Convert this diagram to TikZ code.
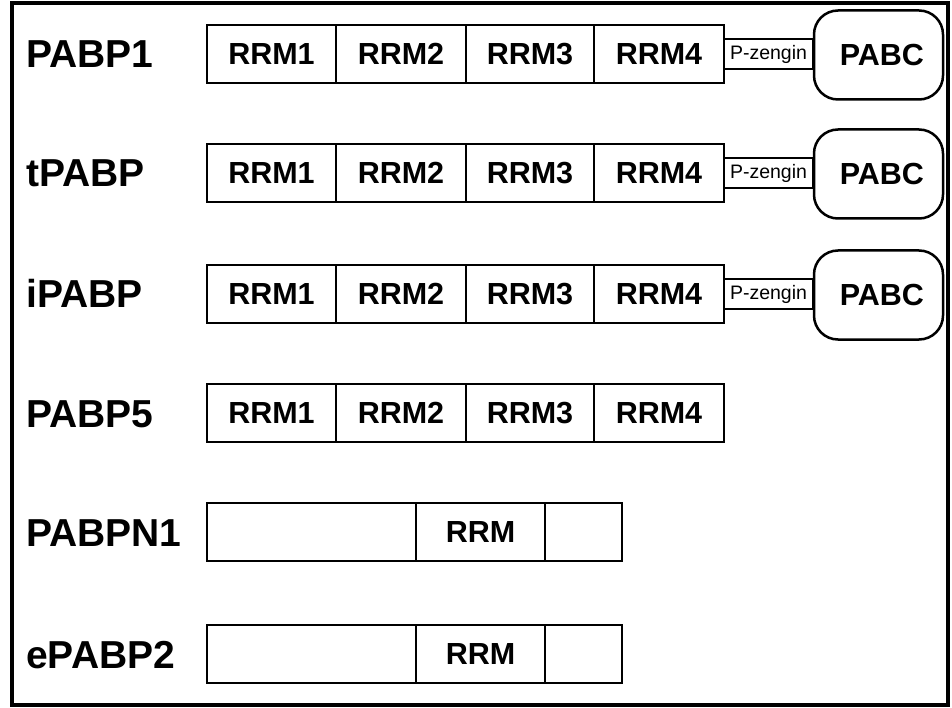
\documentclass[tikz,border=0pt]{standalone}
\usepackage{fontspec}
\setmainfont{Liberation Sans}
\begin{document}
\begin{tikzpicture}[x=1pt,y=-1pt,
  cell/.style={draw,line width=2pt,minimum height=58pt,inner sep=0pt,outer sep=0pt,font=\fontsize{30.5}{30.5}\selectfont\bfseries},
  lbl/.style={anchor=base west,inner sep=0pt,font=\fontsize{39}{39}\selectfont\bfseries},
  link/.style={draw,line width=2pt,minimum width=89pt,minimum height=30pt,inner sep=0pt,outer sep=0pt,anchor=west,font=\fontsize{19.5}{19.5}\selectfont},
  pabc/.style={draw,line width=2.5pt,rounded corners=24pt,minimum width=129pt,minimum height=89pt,inner sep=0pt,outer sep=0pt,anchor=west,text width=91pt,align=right,font=\fontsize{30.5}{30.5}\selectfont\bfseries}]
\useasboundingbox (0,0) rectangle (952,708);
\draw[line width=4.5pt] (12,3) rectangle (948,705);
% four-RRM proteins
\foreach \r/\c/\name in {1/54/PABP1, 2/173/tPABP, 3/294/iPABP, 4/413/PABP5}{
  \node[lbl] (lab\r) at (26,\c+14) {\name};
  \node[cell,minimum width=129pt] (c\r-1) at (271.5,\c) {RRM1};
  \node[cell,minimum width=130pt] (c\r-2) at (401,\c) {RRM2};
  \node[cell,minimum width=128pt] (c\r-3) at (530,\c) {RRM3};
  \node[cell,minimum width=130pt] (c\r-4) at (659,\c) {RRM4};
}
\foreach \r in {1,2,3}{
  \node[link] (pz\r) at (c\r-4.east) {P-zengin};
  \node[pabc] (pabc\r) at ([xshift=1pt,yshift=-1pt]pz\r.east) {PABC};
}
% single-RRM proteins
\foreach \r/\c/\name in {5/532/PABPN1, 6/654/ePABP2}{
  \node[lbl] (lab\r) at (26,\c+14) {\name};
  \node[cell,minimum width=209pt] (c\r-1) at (311.5,\c) {};
  \node[cell,minimum width=129pt] (c\r-2) at (480.5,\c) {RRM};
  \node[cell,minimum width=77pt] (c\r-3) at (583.5,\c) {};
}
\end{tikzpicture}
\end{document}
